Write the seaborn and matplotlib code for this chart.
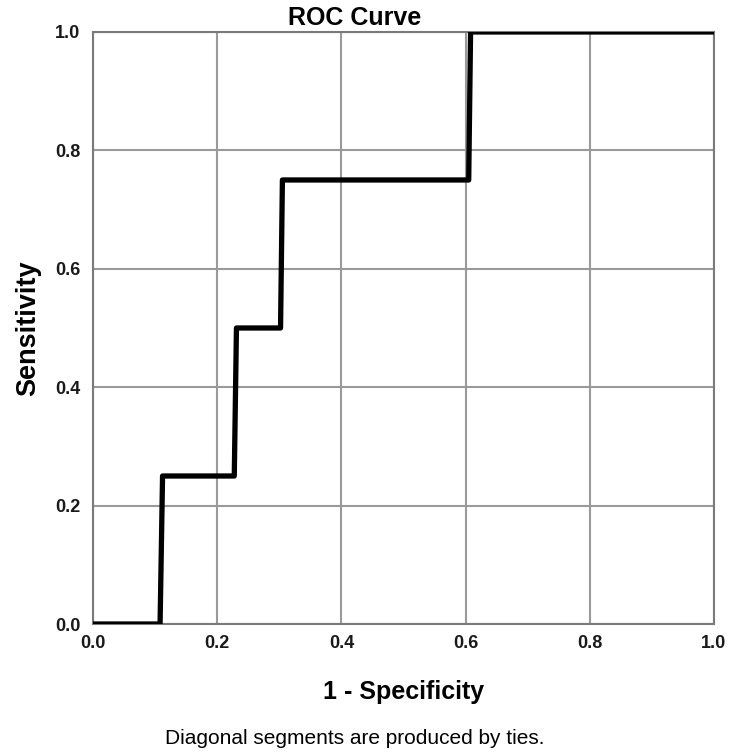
import matplotlib
matplotlib.use("Agg")
import matplotlib.pyplot as plt
import seaborn as sns
import pandas as pd

fpr = [0.0, 0.108, 0.112, 0.2275, 0.231, 0.302, 0.305, 0.605, 0.608, 1.0]
tpr = [0.0, 0.0, 0.25, 0.25, 0.5, 0.5, 0.75, 0.75, 1.0, 1.0]
ticks = [0.0, 0.2, 0.4, 0.6, 0.8, 1.0]
tick_labels = ["0.0", "0.2", "0.4", "0.6", "0.8", "1.0"]

sns.set_style("white")
plt.rcParams['font.family'] = ['Liberation Sans', 'DejaVu Sans']
plt.rcParams['text.color'] = "black"
plt.rcParams['axes.labelcolor'] = "black"

fig = plt.figure(figsize=(7.5, 7.54), dpi=100)
ax = fig.add_axes([0.124, 0.1724, 0.828, 0.7852])

df = pd.DataFrame({"fpr": fpr, "tpr": tpr})
sns.lineplot(data=df, x="fpr", y="tpr", sort=False, estimator=None,
             color="black", linewidth=3.8, ax=ax, zorder=3)

ax.set_xlim(0, 1)
ax.set_ylim(0, 1)
ax.set_xticks(ticks)
ax.set_yticks(ticks)
ax.set_xticklabels(tick_labels, fontsize=13, fontweight="bold")
ax.set_yticklabels(tick_labels, fontsize=13, fontweight="bold")
ax.grid(True, color="#9a9a9a", linewidth=1.5)
ax.set_axisbelow(True)
for s in ax.spines.values():
    s.set_color("#7a7a7a")
    s.set_linewidth(1.5)
ax.tick_params(axis="x", length=0, pad=8, colors="#1a1a1a")
ax.tick_params(axis="y", length=0, pad=9, colors="#1a1a1a")

ax.set_xlabel("1 - Specificity", fontsize=18, fontweight="bold", labelpad=20)
ax.set_ylabel("Sensitivity", fontsize=19.5, fontweight="bold", labelpad=10)
ax.set_title("")
fig.text(0.473, 0.976, "ROC Curve", ha="center", va="center",
         fontsize=18, fontweight="bold")
fig.text(0.473, 0.021, "Diagonal segments are produced by ties.", ha="center",
         va="center", fontsize=15)

fig.savefig("out.png", dpi=100)
